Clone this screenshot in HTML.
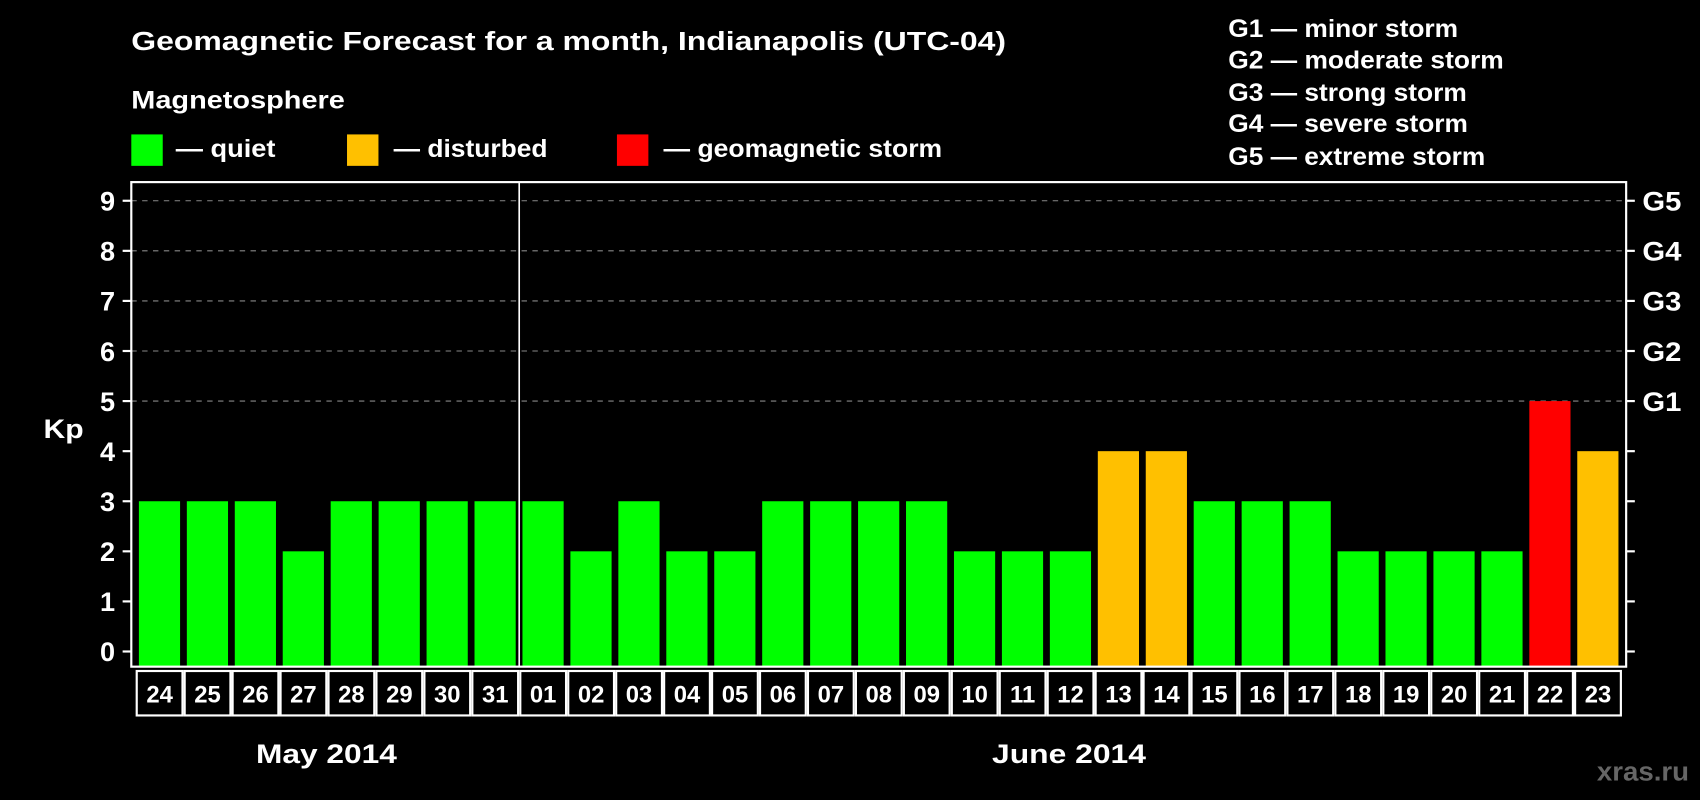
<!DOCTYPE html>
<html><head><meta charset="utf-8"><style>
html,body{margin:0;padding:0;background:#000;}
svg{display:block;font-family:"Liberation Sans",Arial,sans-serif;font-weight:bold;}
</style></head><body>
<svg id="c" width="1700" height="800" viewBox="0 0 1568 738">
<rect width="1568" height="738" fill="#000"/>
<text x="121" y="46" fill="#fff" font-size="24" textLength="807" lengthAdjust="spacingAndGlyphs">Geomagnetic Forecast for a month, Indianapolis (UTC-04)</text>
<text x="121" y="100" fill="#fff" font-size="23" textLength="197" lengthAdjust="spacingAndGlyphs">Magnetosphere</text>
<g><rect x="121" y="124" width="29" height="29" fill="#00ff00"/><text x="162" y="145" fill="#fff" font-size="23" textLength="92" lengthAdjust="spacingAndGlyphs">— quiet</text></g>
<g><rect x="320" y="124" width="29" height="29" fill="#ffc000"/><text x="363" y="145" fill="#fff" font-size="23" textLength="142" lengthAdjust="spacingAndGlyphs">— disturbed</text></g>
<g><rect x="569" y="124" width="29" height="29" fill="#ff0000"/><text x="612" y="145" fill="#fff" font-size="23" textLength="257" lengthAdjust="spacingAndGlyphs">— geomagnetic storm</text></g>
<g fill="#fff" font-size="23">
<text x="1133" y="34" textLength="212" lengthAdjust="spacingAndGlyphs">G1 — minor storm</text>
<text x="1133" y="63" textLength="254" lengthAdjust="spacingAndGlyphs">G2 — moderate storm</text>
<text x="1133" y="93" textLength="220" lengthAdjust="spacingAndGlyphs">G3 — strong storm</text>
<text x="1133" y="122" textLength="221" lengthAdjust="spacingAndGlyphs">G4 — severe storm</text>
<text x="1133" y="152" textLength="237" lengthAdjust="spacingAndGlyphs">G5 — extreme storm</text>
</g>
<text x="40" y="404" fill="#fff" font-size="25" textLength="37" lengthAdjust="spacingAndGlyphs">Kp</text>
<text x="236" y="704" fill="#fff" font-size="25" textLength="130" lengthAdjust="spacingAndGlyphs">May 2014</text>
<text x="915" y="704" fill="#fff" font-size="25" textLength="142" lengthAdjust="spacingAndGlyphs">June 2014</text>
<text x="1473" y="720" fill="#666" font-size="24" textLength="85" lengthAdjust="spacingAndGlyphs">xras.ru</text>
<g id="grid"></g><g id="bars"></g><g id="axes"></g><g id="dates"></g>
</svg>
<script>
const days=['24','25','26','27','28','29','30','31','01','02','03','04','05','06','07','08','09','10','11','12','13','14','15','16','17','18','19','20','21','22','23'];
const kp=[3,3,3,2,3,3,3,3,3,2,3,2,2,3,3,3,3,2,2,2,4,4,3,3,3,2,2,2,2,5,4];
const yTicks=[0,1,2,3,4,5,6,7,8,9];
const gLabels={5:'G1',6:'G2',7:'G3',8:'G4',9:'G5'};
const NS='http://www.w3.org/2000/svg';
const L=121,R=1500,T=168,B=615;
const slot=44.23, X0=124;
const y=v=>601-46.2*v;
const x=i=>X0+i*slot;
function mk(t,a,p){const e=document.createElementNS(NS,t);for(const k in a)e.setAttribute(k,a[k]);document.getElementById(p).appendChild(e);return e;}
const col=v=>v>=5?'#ff0000':v>=4?'#ffc000':'#00ff00';
yTicks.forEach(v=>{
  if(v>=5){const g=mk('line',{x1:L,x2:R,y1:y(v),y2:y(v),stroke:'#888','stroke-dasharray':'5,5','stroke-width':1},'grid');
  
  }
  const t1=mk('line',{x1:L-8,x2:L,y1:y(v),y2:y(v),stroke:'#fff','stroke-width':2},'axes');
  
  
  const t2=mk('line',{x1:R,x2:R+8,y1:y(v),y2:y(v),stroke:'#fff','stroke-width':2},'axes');
  
  
  const lb=mk('text',{x:106,y:y(v)+9,fill:'#fff','font-size':25,'text-anchor':'end'},'axes');lb.textContent=v;
  
  
  if(gLabels[v]){const g=mk('text',{x:1515,y:y(v)+9,fill:'#fff','font-size':25,textLength:36,lengthAdjust:'spacingAndGlyphs'},'axes');g.textContent=gLabels[v];
  
  }
});
kp.forEach((v,i)=>{
  const b=mk('rect',{x:x(i)+4,y:y(v),width:38,height:B-y(v),fill:col(v)},'bars');
  
  
  const c=mk('rect',{x:x(i)+2,y:619,width:slot-2,height:41,fill:'none',stroke:'#fff','stroke-width':2},'dates');
  
  
  const t=mk('text',{x:x(i)+1+slot/2,y:648,fill:'#fff','font-size':22,'text-anchor':'middle'},'dates');t.textContent=days[i];
  
  
});
const fr=mk('rect',{x:L,y:T,width:R-L,height:B-T,fill:'none',stroke:'#fff','stroke-width':2},'axes');


const ml=mk('line',{x1:x(8)+1,x2:x(8)+1,y1:T,y2:B,stroke:'#fff','stroke-width':1.5},'axes');


</script>
</body></html>
